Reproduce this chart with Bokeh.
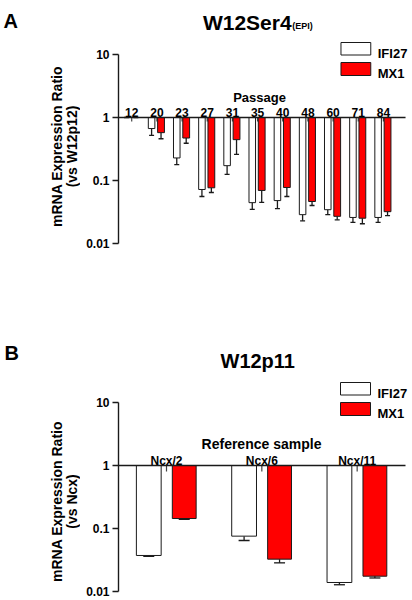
import math
import numpy as np
from bokeh.plotting import figure
from bokeh.layouts import column, row
from bokeh.models import (Range1d, Label, Whisker, TeeHead, ColumnDataSource,
                          FixedTicker)
from bokeh.core.properties import value
from bokeh.embed import file_html
from bokeh.resources import INLINE

# ---------------- data ----------------
series_names = ["IFI27", "MX1"]

passages = ["12", "20", "23", "27", "31", "35", "40", "48", "60", "71", "84"]
ifi27_a = [1.0, 0.668, 0.228, 0.072, 0.172, 0.0445, 0.048, 0.0287, 0.0344, 0.0259, 0.0259]
ifi27_a_low = [1.0, 0.52, 0.178, 0.0557, 0.125, 0.0347, 0.0357, 0.0229, 0.0288, 0.0216, 0.0216]
mx1_a = [1.0, 0.575, 0.472, 0.0766, 0.445, 0.0695, 0.0775, 0.0464, 0.0270, 0.0252, 0.0320]
mx1_a_low = [1.0, 0.46, 0.39, 0.0645, 0.259, 0.045, 0.0557, 0.0401, 0.0238, 0.0206, 0.0278]

samples = ["Ncx/2", "Ncx/6", "Ncx/11"]
ifi27_b = [0.0373, 0.0756, 0.0139]
ifi27_b_low = [0.0362, 0.0645, 0.0128]
mx1_b = [0.144, 0.0326, 0.0175]
mx1_b_low = [0.140, 0.0285, 0.0164]

yticks = [0.01, 0.1, 1, 10]
ytick_labels = ["0.01", "0.1", "1", "10"]

panel_letters = ["A", "B"]
ylabel_lines = ["mRNA Expression Ratio", "(vs W12p12)", "mRNA Expression Ratio", "(vs Ncx)"]

FONT = "Liberation Sans"
RED = "#ff0000"
EDGE = "#1a1a1a"
LEFT_W = 80
TOTAL_W = 411


def make_panel(height, top, frame_left, px_center0, px_step, py_one, py_decade,
               cats, ifi, ifi_low, mx, mx_low, off_w, off_r, w_w, w_r, cap,
               tick_len, lay):
    def X(px):
        return (px - px_center0) / px_step

    def Y(py):
        return 10 ** ((py_one - py) / py_decade)

    p = figure(width=TOTAL_W - LEFT_W, height=height, y_axis_type="log",
               x_range=Range1d(X(frame_left), X(TOTAL_W)),
               y_range=Range1d(Y(top + height), Y(top)),
               output_backend="svg", toolbar_location=None, x_axis_location=None,
               min_border_left=frame_left - LEFT_W, min_border_right=0,
               min_border_top=0, min_border_bottom=0)
    p.grid.visible = False
    p.outline_line_color = None
    p.background_fill_color = "white"
    p.border_fill_color = "white"

    xs = np.arange(len(cats), dtype=float)
    src = ColumnDataSource(dict(x=xs, xw=xs + off_w, xr=xs + off_r, lab=cats,
                                ifi=ifi, ifi_low=ifi_low, mx=mx, mx_low=mx_low))

    # category ticks hanging from the 1-line
    p.segment(x0="x", y0=1, x1="x", y1=Y(py_one + tick_len), source=src,
              line_color="#444444", line_width=1.2)

    p.vbar(x="xw", width=w_w, top="ifi", bottom=1, source=src,
           fill_color="white", line_color=EDGE, line_width=1)
    p.vbar(x="xr", width=w_r, top="mx", bottom=1, source=src,
           fill_color=RED, line_color=EDGE, line_width=1)

    for base, up, lo in (("xw", "ifi", "ifi_low"), ("xr", "mx", "mx_low")):
        p.add_layout(Whisker(source=src, base=base, upper=up, lower=lo,
                             dimension="height", upper_head=None,
                             lower_head=TeeHead(size=cap, line_color=EDGE, line_width=1.3),
                             line_color=EDGE, line_width=1.3))

    # baseline at ratio = 1
    p.segment(x0=[X(frame_left)], y0=[1], x1=[X(405)], y1=[1],
              line_color=EDGE, line_width=1.3)

    p.text(x="x", y=1, text="lab", source=src, y_offset=-5,
           text_align="center", text_baseline="alphabetic",
           text_font=value(FONT), text_font_style="bold",
           text_font_size="12px", text_color="black")

    # legend
    p.quad(left=[X(lay[0])] * 2, right=[X(lay[0] + 30)] * 2,
           top=[Y(lay[1]), Y(lay[1] + 20)], bottom=[Y(lay[1] + 12.5), Y(lay[1] + 33)],
           fill_color=["white", RED], line_color=EDGE, line_width=1)
    p.text(x=[X(lay[0] + 37)] * 2, y=[Y(lay[1] + 10.5), Y(lay[1] + 31)],
           text=series_names, text_align="left", text_baseline="alphabetic",
           text_font=value(FONT), text_font_style="bold",
           text_font_size="13px", text_color="black")

    ax = p.yaxis[0]
    ax.ticker = FixedTicker(ticks=yticks)
    ax.major_label_overrides = {t: s for t, s in zip(yticks, ytick_labels)}
    ax.bounds = (0.01, 10)
    ax.axis_line_color = EDGE
    ax.axis_line_width = 1.4
    ax.major_tick_line_color = EDGE
    ax.major_tick_line_width = 1.3
    ax.major_tick_out = 6
    ax.major_tick_in = 0
    ax.minor_tick_line_color = None
    ax.major_label_standoff = 3
    ax.major_label_text_font = FONT
    ax.major_label_text_font_style = "bold"
    ax.major_label_text_font_size = "12px"
    ax.major_label_text_color = "black"

    def lab(px, py, text, size, **kw):
        p.add_layout(Label(x=X(px), y=Y(py), text=text, text_font=FONT,
                           text_font_style="bold", text_font_size=size,
                           text_color="black", **kw))
    return p, lab


pA, labA = make_panel(320, 0, 116, 129.3, 25.34, 117, 63,
                      passages, ifi27_a, ifi27_a_low, mx1_a, mx1_a_low,
                      -0.21, 0.165, 0.26, 0.27, 5, 4, (340, 42))
labA(201, 21.7, "W12Ser4", "21px", text_align="left", text_baseline="alphabetic")
labA(291, 25, "(EPI)", "9px", text_align="left", text_baseline="alphabetic")
labA(258, 97, "Passage", "13px", text_align="center", text_baseline="alphabetic")

pB, labB = make_panel(279, 320, 118, 166, 95.33, 465, 63,
                      samples, ifi27_b, ifi27_b_low, mx1_b, mx1_b_low,
                      -0.186, 0.186, 0.26, 0.25, 11, 6, (340, 382))
labB(220, 360, "W12p11", "20px", text_align="left", text_baseline="alphabetic")
labB(261, 443, "Reference sample", "14px", text_align="center", text_baseline="alphabetic")

# left strip: panel letters and y-axis titles (pixel-like coordinates)
left = figure(width=LEFT_W, height=599, x_range=Range1d(0, LEFT_W), y_range=Range1d(599, 0),
              output_backend="svg", toolbar_location=None, x_axis_location=None,
              y_axis_location=None, min_border_left=0, min_border_right=0,
              min_border_top=0, min_border_bottom=0)
left.grid.visible = False
left.outline_line_color = None
left.text(x=[3, 4], y=[20.7, 352.7], text=panel_letters, text_align="left",
          text_baseline="alphabetic", text_font=value(FONT), text_font_style="bold",
          text_font_size="20px", text_color="black")
left.text(x=[56, 71, 56, 71], y=[146, 146, 501, 501], text=ylabel_lines,
          angle=math.pi / 2, text_align="center", text_baseline="middle",
          text_font=value(FONT), text_font_style="bold",
          text_font_size="14px", text_color="black")

layout = row(left, column(pA, pB, spacing=0), spacing=0)
open("out.html", "w").write(file_html(layout, INLINE))
